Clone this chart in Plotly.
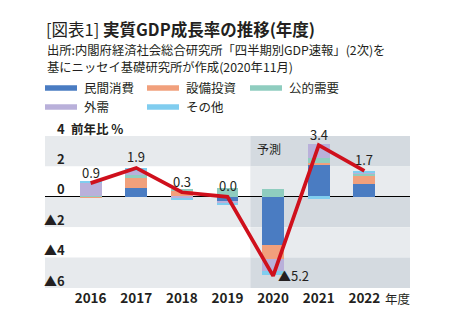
import plotly.graph_objects as go

years = ["2016", "2017", "2018", "2019", "2020", "2021", "2022"]
gdp = [0.9, 1.9, 0.3, 0.0, -5.2, 3.4, 1.7]
gdp_labels = ["0.9", "1.9", "0.3", "0.0", "▲5.2", "3.4", "1.7"]

series_names = ["民間消費", "設備投資", "公的需要", "外需", "その他"]
private_cons = [0.0, 0.6, 0.0, -0.25, -3.15, 2.1, 0.87]
capex = [-0.1, 0.63, 0.4, 0.0, -0.93, 0.15, 0.5]
public = [0.05, 0.2, 0.1, 0.55, 0.5, 0.33, 0.15]
external = [0.9, 0.25, -0.1, -0.2, -0.82, 0.89, 0.1]
others = [0.05, 0.22, -0.1, -0.1, -0.25, -0.13, 0.1]
series_values = [private_cons, capex, public, external, others]
series_colors = ["#4a7cc2", "#f1a07c", "#8fcdbf", "#b9b0da", "#80cdef"]

y_ticks = [4, 2, 0, -2, -4, -6]
y_tick_labels = ["4", "2", "0", "▲2", "▲4", "▲6"]

W, H = 455, 334
L, R, T, B = 45, 410, 136, 288
FONT = "Noto Sans CJK JP"
TXT = "#231f20"


def px(x):
    return (x - L) / (R - L)


def py(y):
    return (B - y) / (B - T)


fig = go.Figure()
for name, vals, col in zip(series_names, series_values, series_colors):
    fig.add_trace(go.Bar(x=years, y=vals, name=name, marker_color=col,
                         marker_line_width=0, width=0.48, showlegend=False))

fig.add_trace(go.Scatter(x=years, y=gdp, mode="lines",
                         line=dict(color="#cf101c", width=3.7), showlegend=False))

shapes = []
bands = [(4, 2, True), (2, 0, False), (0, -2, True), (-2, -4, False), (-4, -6, True)]
for y0, y1, dark in bands:
    shapes.append(dict(type="rect", xref="x", yref="y", x0=-1, x1=3.5, y0=y0, y1=y1,
                       fillcolor="#e7eaed" if dark else "#ffffff", line_width=0, layer="below"))
    shapes.append(dict(type="rect", xref="x", yref="y", x0=3.5, x1=7, y0=y0, y1=y1,
                       fillcolor="#d4dae0" if dark else "#e8ebee", line_width=0, layer="below"))

annotations = []
leg_pos = [(45, 88), (147, 88), (250, 88), (45, 107), (147, 107)]
for (lx, ly), name, col in zip(leg_pos, series_names, series_colors):
    shapes.append(dict(type="line", xref="paper", yref="paper", x0=px(lx), x1=px(lx + 32),
                       y0=py(ly), y1=py(ly), line=dict(color=col, width=5.5)))
    annotations.append(dict(xref="paper", yref="paper", x=px(lx + 37), y=py(ly), text=name,
                            showarrow=False, xanchor="left", yanchor="middle",
                            font=dict(size=12.5, color=TXT, family=FONT)))

for v, t in zip(y_ticks, y_tick_labels):
    annotations.append(dict(xref="paper", yref="y", x=px(67), y=v, yshift=8, text="<b>" + t + "</b>",
                            showarrow=False, xanchor="right", yanchor="middle",
                            font=dict(size=13, color=TXT, family=FONT)))
annotations.append(dict(xref="paper", yref="y", x=px(69), y=4, yshift=8, text="<b>前年比 %</b>",
                        showarrow=False, xanchor="left", yanchor="middle",
                        font=dict(size=12.5, color=TXT, family=FONT)))

for i, (v, t) in enumerate(zip(gdp, gdp_labels)):
    if v < 0:
        annotations.append(dict(xref="x", yref="y", x=i, y=v, text=t, showarrow=False,
                                xanchor="left", yanchor="middle", xshift=3,
                                font=dict(size=13, color=TXT, family=FONT)))
    else:
        annotations.append(dict(xref="x", yref="y", x=i, y=v, text=t, showarrow=False,
                                xanchor="center", yanchor="middle", yshift=11,
                                font=dict(size=13, color=TXT, family=FONT)))

annotations.append(dict(xref="paper", yref="paper", x=px(255), y=py(148), text="予測",
                        showarrow=False, xanchor="left", yanchor="middle",
                        font=dict(size=12, color=TXT, family=FONT)))
annotations.append(dict(xref="paper", yref="paper", x=px(383), y=py(298), text="年度",
                        showarrow=False, xanchor="left", yanchor="middle",
                        font=dict(size=12.5, color=TXT, family=FONT)))

annotations.append(dict(xref="paper", yref="paper", x=px(44), y=py(29),
                        text="[図表1] <b>実質GDP成長率の推移(年度)</b>",
                        showarrow=False, xanchor="left", yanchor="middle",
                        font=dict(size=16.5, color=TXT, family=FONT)))
annotations.append(dict(xref="paper", yref="paper", x=px(45), y=py(49.5),
                        text="出所:内閣府経済社会総合研究所「四半期別GDP速報」(2次)を",
                        showarrow=False, xanchor="left", yanchor="middle",
                        font=dict(size=12.3, color=TXT, family=FONT)))
annotations.append(dict(xref="paper", yref="paper", x=px(45), y=py(67),
                        text="基にニッセイ基礎研究所が作成(2020年11月)",
                        showarrow=False, xanchor="left", yanchor="middle",
                        font=dict(size=12.3, color=TXT, family=FONT)))

fig.update_layout(
    width=W, height=H,
    margin=dict(l=L, r=W - R, t=T, b=H - B, pad=0),
    paper_bgcolor="white", plot_bgcolor="white",
    barmode="relative", bargap=0,
    shapes=shapes, annotations=annotations,
    xaxis=dict(type="category", range=[-1, 7], showgrid=False, zeroline=False,
               showline=False, ticks="", ticklen=0,
               tickfont=dict(size=13.5, color=TXT, family=FONT, weight="bold")),
    yaxis=dict(range=[-6, 4], showgrid=False, zeroline=True, zerolinecolor="#000000",
               zerolinewidth=1.3, showticklabels=False, ticks="", showline=False),
    font=dict(family=FONT, color=TXT),
)

fig.write_html("out.html")
